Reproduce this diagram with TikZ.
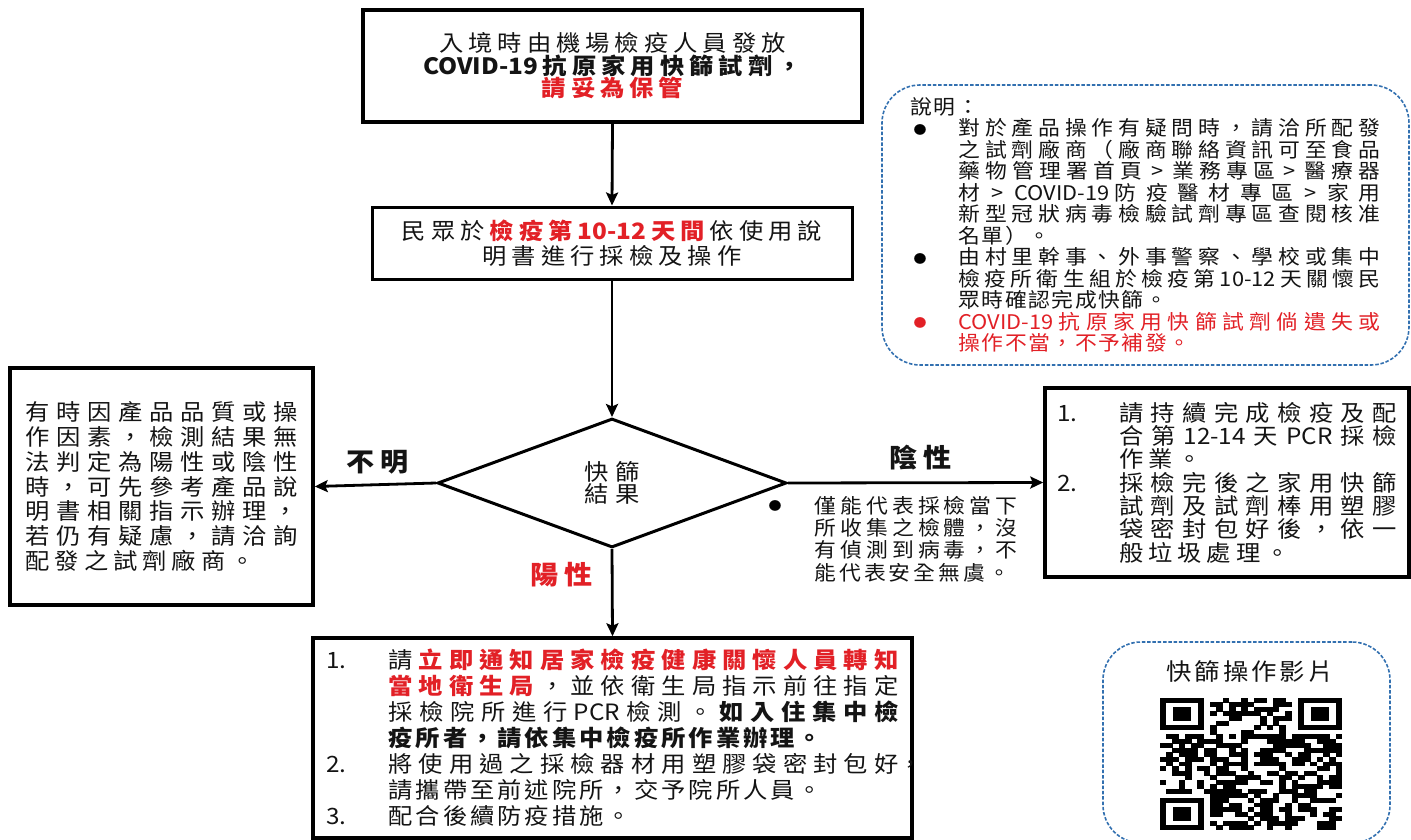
\documentclass[tikz,border=0pt]{standalone}
\usepackage{fontspec}
\setmainfont{Noto Sans CJK TC}[FakeStretch=1.08]
\usetikzlibrary{shapes.geometric,arrows.meta}
\definecolor{redt}{RGB}{226,32,38}
\definecolor{dashblue}{RGB}{50,112,176}
\definecolor{txt}{RGB}{20,20,20}
\XeTeXinterchartokenstate=1
\newXeTeXintercharclass\cjkclass
\newcount\cjkc
\cjkc="4E00
\loop
  \XeTeXcharclass\cjkc=\cjkclass
  \advance\cjkc by 1
\ifnum\cjkc<"A000 \repeat
\XeTeXcharclass"3001=\cjkclass
\XeTeXcharclass"3002=\cjkclass
\XeTeXcharclass"FF0C=\cjkclass
\XeTeXcharclass"FF08=\cjkclass
\XeTeXcharclass"FF09=\cjkclass
\XeTeXcharclass"FF1A=\cjkclass
\newskip\cjkskip
\cjkskip=0pt
\XeTeXinterchartoks\cjkclass\cjkclass={\hskip\cjkskip}
\XeTeXinterchartoks 0 \cjkclass={\hskip\cjkskip}
\XeTeXinterchartoks\cjkclass 0 ={\hskip\cjkskip}
\newcommand\cg{\hskip\cjkskip}
\newcommand\gt{\hskip 7pt plus 1em>\hskip 7pt plus 1em}
\newcommand\numitem[1]{\hangindent=62pt\hangafter=1\makebox[62pt][l]{#1}}
\newcommand\nbul[1]{\hangindent=48pt\hangafter=1\makebox[48pt][l]{\hspace{3pt}\raisebox{1.5pt}{\textcolor{#1}{\fontsize{12}{12}\selectfont ●}}}}
\begin{document}
\begin{tikzpicture}[x=1pt,y=-1pt,
 box/.style={draw=black,line width=3.5pt,fill=white,inner sep=0pt,text=txt},
 conn/.style={draw=black,line width=2.8pt,-{Stealth[length=13pt,width=12pt,inset=2.5pt]}},
 dashbox/.style={draw=dashblue,line width=1.6pt,dash pattern=on 3.5pt off 1.8pt,rounded corners=38pt,fill=white,inner sep=0pt,text=txt},
 lbl/.style={inner sep=0pt,font={\fontsize{26}{26}\selectfont\bfseries\cjkskip=6pt}},
 bul/.style={inner sep=0pt,font={\fontsize{12}{12}\selectfont}}
]
\useasboundingbox[fill=white] (0,0) rectangle (1411,840);

% top box
\node[box,minimum width=499pt,minimum height=112pt,align=center,
  font={\fontsize{22.5}{22.5}\selectfont\cjkskip=5pt}] (top) at (612.5,66)
  {入境時由機場檢疫人員發放\\\textbf{COVID-19抗原家用快篩試劑，}\\\textcolor{redt}{\bfseries 請妥為保管}};

% second box
\node[box,line width=3pt,minimum width=480pt,minimum height=72pt,align=center,
  font={\fontsize{22.5}{25.5}\selectfont\cjkskip=5pt}] (b2) at (612,243)
  {民眾於\cg\textcolor{redt}{\bfseries 檢疫第10-12天間}\cg 依使用說\\明書進行採檢及操作};

% diamond
\node[draw=black,line width=3pt,diamond,fill=white,minimum width=349pt,minimum height=129pt,
  inner sep=0pt,align=center,text=txt,font={\fontsize{22.5}{22}\selectfont\cjkskip=7pt}] (dia) at (612,483)
  {快篩\\結果};

% left box (unknown)
\node[box,minimum width=303pt,minimum height=237pt,text width=272pt,align=justify,
  font={\fontsize{22.5}{24.7}\selectfont\parindent=0pt\cjkskip=5pt plus 2em}] (unkbox) at (161.5,486.5)
  {有時因產品品質或操\linebreak
作因素，檢測結果無\linebreak
法判定為陽性或陰性\linebreak
時，可先參考產品說\linebreak
明書相關指示辦理，\linebreak
若仍有疑慮，請洽詢\linebreak
配發之試劑廠商。\par};

% right box (negative)
\node[box,minimum width=364pt,minimum height=189pt,text width=340pt,align=justify,
  font={\fontsize{22.5}{23.3}\selectfont\parindent=0pt\cjkskip=5pt plus 2em}] (negbox) at (1227,482.5)
  {\numitem{1.}請持續完成檢疫及配\linebreak
合第12-14天PCR採檢\linebreak
作業。\par
\numitem{2.}採檢完後之家用快篩\linebreak
試劑及試劑棒用塑膠\linebreak
袋密封包好後，依一\linebreak
般垃圾處理。\par};

% bottom box (positive)
\node[box,minimum width=599pt,minimum height=200pt,text width=572pt,align=justify,
  font={\fontsize{22.5}{26}\selectfont\parindent=0pt\cjkskip=3pt plus 2em}] (posbox) at (612.5,738)
  {\numitem{1.}請\cg\textcolor{redt}{\bfseries 立即通知居家檢疫健康關懷人員轉知\linebreak
當地衛生局}\cg，並依衛生局指示前往指定\linebreak
採檢院所進行PCR檢測。\cg{\bfseries 如入住集中檢\linebreak
疫所者，請依集中檢疫所作業辦理。}\par
\numitem{2.}將使用過之採檢器材用塑膠袋密封包好\rlap{，}\linebreak
請攜帶至前述院所，交予院所人員。\par
\numitem{3.}配合後續防疫措施。\par};

% notes box
\node[dashbox,minimum width=527pt,minimum height=280pt,text width=470pt,align=justify,
  font={\fontsize{20.2}{21.5}\selectfont\parindent=0pt\cjkskip=1.5pt plus 2em}] (notes) at (1145.5,225)
  {說明：\par
\nbul{black}對於產品操作有疑問時，請洽所配發\linebreak
之試劑廠商（廠商聯絡資訊可至食品\linebreak
藥物管理署首頁\gt 業務專區\gt 醫療器\linebreak
材\gt COVID-19 防疫醫材專區\gt 家用\linebreak
新型冠狀病毒檢驗試劑專區查閱核准\linebreak
名單）。\par
\nbul{black}由村里幹事、外事警察、學校或集中\linebreak
檢疫所衛生組於檢疫第10-12天關懷民\linebreak
眾時確認完成快篩。\par
\nbul{redt}\textcolor{redt}{COVID-19抗原家用快篩試劑倘遺失或\linebreak
操作不當，不予補發。}\par};

% negative-result remark
\node[bul] (b4) at (775,506) {●};
\node[inner sep=0pt,text width=203pt,align=justify,text=txt,
  font={\fontsize{20.2}{22.3}\selectfont\parindent=0pt\cjkskip=3pt plus 2em}] (negnote) at (916,539)
  {僅能代表採檢當下\linebreak
所收集之檢體，沒\linebreak
有偵測到病毒，不\linebreak
能代表安全無虞。\par};

% QR box
\node[dashbox,minimum width=287pt,minimum height=201pt] (qrbox) at (1246.5,742.5) {};
\node[inner sep=0pt,text=txt,font={\fontsize{23.5}{23.5}\selectfont\cjkskip=3pt}] (qrlbl) at (1250,672) {快篩操作影片};

\def\qx{1160}\def\qy{698}\def\qw{6.276}\def\qh{4.552}
\foreach \a/\b in {0/0,22/0,0/22}{
  \fill[black] (\qx+\a*\qw,\qy+\b*\qh) rectangle ++(7*\qw,7*\qh);
  \fill[white] (\qx+\a*\qw+\qw,\qy+\b*\qh+\qh) rectangle ++(5*\qw,5*\qh);
  \fill[black] (\qx+\a*\qw+2*\qw,\qy+\b*\qh+2*\qh) rectangle ++(3*\qw,3*\qh);
}
\pgfmathsetseed{12345}
\foreach \i in {0,...,28}{\foreach \j in {0,...,28}{
  \pgfmathtruncatemacro{\qskip}{or(and(\i<8,\j<8),or(and(\i>20,\j<8),and(\i<8,\j>20)))}
  \pgfmathtruncatemacro{\qon}{rnd<0.55}
  \ifnum\qskip=0 \ifnum\qon=1 \fill[black] (\qx+\i*\qw-0.2,\qy+\j*\qh-0.2) rectangle ++(\qw+0.4,\qh+0.4); \fi\fi
}}

% labels
\node[lbl,text=txt] (unk) at (378,462) {不明};
\node[lbl,text=txt] (neg) at (921,458) {陰性};
\node[lbl,text=redt] (pos) at (562,575) {陽性};

% connectors
\draw[conn] (top.south) -- (b2.north);
\draw[conn] (b2.south) -- (dia.north);
\draw[conn] (dia.west) -- (unkbox.east);
\draw[conn] (dia.east) -- (negbox.west);
\draw[conn] (dia.south) -- (posbox.north);
\end{tikzpicture}
\end{document}
